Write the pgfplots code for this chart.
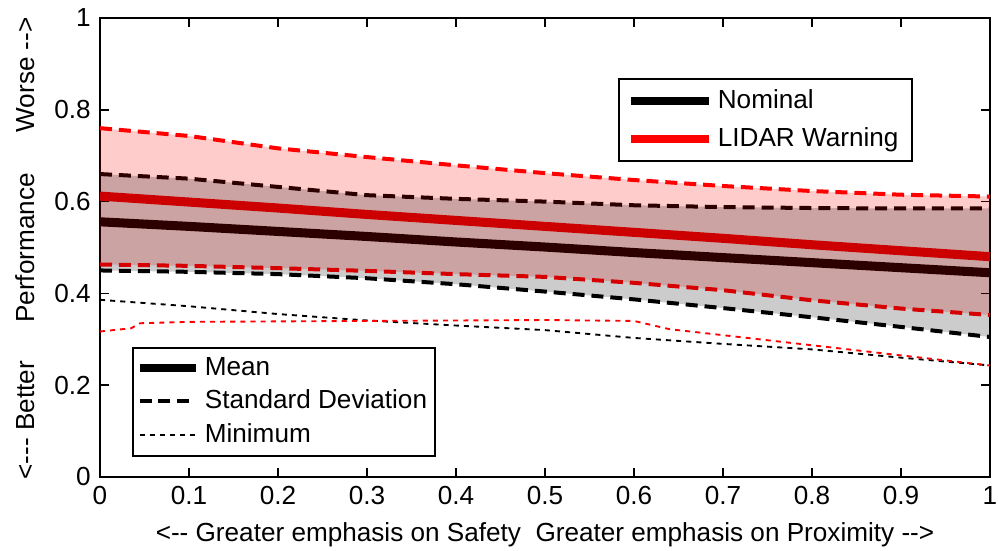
\documentclass[border=0pt]{standalone}
\usepackage{pgfplots}
\pgfplotsset{compat=1.18}
\usepgfplotslibrary{fillbetween}
\usepackage{pgfplotstable}
\usepackage{fontspec}
\setmainfont{Liberation Sans}

\definecolor{dkred}{RGB}{204,0,0}
\definecolor{brn}{RGB}{45,0,0}
\definecolor{midred}{RGB}{215,0,0}

% mean, std bounds and minimum for both cases
\pgfplotstableread{
x    bmean rmean bup   blo   rup   rlo   bmin
0.0  0.556 0.612 0.660 0.450 0.760 0.463 0.386
0.1  0.546 0.599 0.650 0.447 0.743 0.460 0.372
0.2  0.535 0.586 0.632 0.442 0.716 0.455 0.355
0.3  0.524 0.572 0.614 0.433 0.697 0.449 0.341
0.4  0.512 0.559 0.606 0.420 0.679 0.442 0.330
0.5  0.501 0.546 0.600 0.404 0.662 0.436 0.320
0.6  0.489 0.533 0.592 0.387 0.647 0.423 0.303
0.7  0.478 0.520 0.588 0.368 0.634 0.407 0.290
0.8  0.467 0.506 0.586 0.348 0.623 0.385 0.278
0.9  0.456 0.493 0.585 0.327 0.615 0.367 0.260
1.0  0.445 0.480 0.585 0.305 0.611 0.353 0.243
}\data

\pgfplotstableread{
x     rmin
0.0   0.317
0.035 0.324
0.045 0.335
0.1   0.338
0.2   0.339
0.3   0.340
0.4   0.341
0.5   0.342
0.6   0.340
0.64  0.322
0.7   0.309
0.8   0.287
0.9   0.265
1.0   0.243
}\redmin

\begin{document}
\begin{tikzpicture}[font=\fontsize{9.8}{11.5}\selectfont]
\begin{axis}[
    name=main,
    scale only axis,
    width=333.75pt, height=172.125pt,
    xmin=0, xmax=1, ymin=0, ymax=1,
    xtick={0,0.1,0.2,0.3,0.4,0.5,0.6,0.7,0.8,0.9,1},
    ytick={0,0.2,0.4,0.6,0.8,1},
    tick align=inside,
    major tick length=3.5pt,
    axis line style={line width=0.75pt},
    every tick/.style={black, line width=0.6pt},
    /pgf/number format/assume math mode=true,
    tick label style={font=\fontsize{9.8}{11.5}\selectfont},
    clip=false,
    legend image code/.code={\draw[#1] (0pt,0pt) -- (29pt,0pt);},
    legend cell align=left,
    legend style={at={(0.913,0.869)}, anchor=north east,
        draw=black, line width=0.6pt, inner xsep=3pt, inner ysep=2pt,
        row sep=1.5pt, font=\fontsize{9.8}{11.5}\selectfont},
]
% invisible bounds for the shaded bands
\addplot[draw=none, forget plot, name path=rup] table[x=x, y=rup] {\data};
\addplot[draw=none, forget plot, name path=rlo] table[x=x, y=rlo] {\data};
\addplot[draw=none, forget plot, name path=bup] table[x=x, y=bup] {\data};
\addplot[draw=none, forget plot, name path=blo] table[x=x, y=blo] {\data};
\addplot[fill=red, fill opacity=0.2, draw=none, forget plot] fill between[of=rup and rlo];
\addplot[fill=black, fill opacity=0.2, draw=none, forget plot] fill between[of=bup and blo];

% minimum
\addplot[black, line width=0.7pt, dash pattern=on 1.9pt off 1.9pt, forget plot] table[x=x, y=bmin] {\data};
\addplot[red, line width=0.7pt, dash pattern=on 1.9pt off 1.9pt, forget plot] table[x=x, y=rmin] {\redmin};
% standard deviation
\addplot[black, line width=1.5pt, dash pattern=on 4.5pt off 2.6pt, forget plot] table[x=x, y=blo] {\data};
\addplot[midred, line width=1.5pt, dash pattern=on 4.5pt off 2.6pt, forget plot] table[x=x, y=rlo] {\data};
\addplot[brn, line width=1.5pt, dash pattern=on 4.5pt off 2.6pt, forget plot] table[x=x, y=bup] {\data};
\addplot[red, line width=1.5pt, dash pattern=on 4.5pt off 2.6pt, forget plot] table[x=x, y=rup] {\data};
% mean
\addplot[brn, line width=3.4pt, forget plot] table[x=x, y=bmean] {\data};
\addplot[dkred, line width=3.4pt, forget plot] table[x=x, y=rmean] {\data};

\addlegendimage{black, line width=3pt}
\addlegendentry{Nominal}
\addlegendimage{red, line width=3pt}
\addlegendentry{LIDAR Warning}

\node[rotate=90] at (rel axis cs:0,0.124) [yshift=28pt] {<-{}-{}- Better};
\node[rotate=90] at (rel axis cs:0,0.499) [yshift=28pt] {Performance};
\node[rotate=90] at (rel axis cs:0,0.876) [yshift=28pt] {Worse -{}->};
\node at (rel axis cs:0.5,0) [yshift=-21.5pt] {<-{}- Greater emphasis on Safety\ \ Greater emphasis on Proximity -{}->};
\end{axis}

\begin{axis}[
    scale only axis,
    width=333.75pt, height=172.125pt,
    at={(main.south west)}, anchor=south west,
    hide axis,
    xmin=0, xmax=1, ymin=0, ymax=1,
    legend image code/.code={\draw[#1] (0pt,0pt) -- (21pt,0pt);},
    legend cell align=left,
    legend style={at={(0.036,0.283)}, anchor=north west,
        draw=black, line width=0.6pt, inner xsep=1pt, inner ysep=1.5pt,
        row sep=0pt, font=\fontsize{9.8}{11.5}\selectfont},
]
\addlegendimage{black, line width=3pt}
\addlegendentry{Mean}
\addlegendimage{black, line width=1.5pt, dash pattern=on 4.5pt off 2.6pt}
\addlegendentry{Standard Deviation}
\addlegendimage{black, line width=0.7pt, dash pattern=on 1.9pt off 1.9pt}
\addlegendentry{Minimum}
\end{axis}

\pgfresetboundingbox
\path[use as bounding box] ([shift={(-37.5pt,-27.375pt)}]main.south west)
    rectangle ([shift={(3pt,6.75pt)}]main.north east);
\end{tikzpicture}
\end{document}
